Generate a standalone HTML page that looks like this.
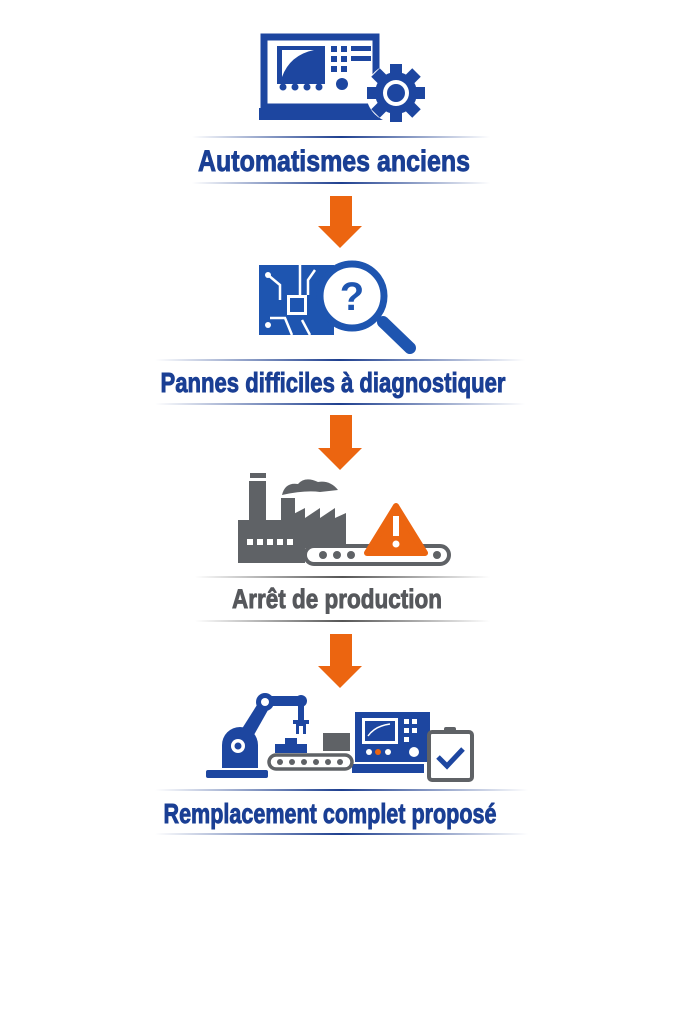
<!DOCTYPE html>
<html><head><meta charset="utf-8"><style>
html,body{margin:0;padding:0;background:#fff;}
body{width:683px;height:1024px;position:relative;overflow:hidden;}
svg{position:absolute;left:0;top:0;}
text{font-family:"Liberation Sans Narrow","Liberation Sans",sans-serif;font-weight:bold;stroke-width:0.9;}
</style></head><body>
<svg width="683" height="1024" viewBox="0 0 683 1024">
<defs>
<linearGradient id="ln" x1="0" x2="1"><stop offset="0" stop-color="#1e3f8f" stop-opacity="0"/><stop offset="0.5" stop-color="#1e3f8f"/><stop offset="1" stop-color="#1e3f8f" stop-opacity="0"/></linearGradient>
<linearGradient id="lg" x1="0" x2="1"><stop offset="0" stop-color="#555" stop-opacity="0"/><stop offset="0.5" stop-color="#555"/><stop offset="1" stop-color="#555" stop-opacity="0"/></linearGradient>
</defs>
<!-- Icon 1 -->
<rect x="264" y="37" width="112" height="70" fill="none" stroke="#1d46a0" stroke-width="7"/>
<rect x="277" y="46" width="48" height="38" fill="#1d46a0"/>
<path d="M282 77 Q290 55 314 50 L282 50 Z" fill="#fff"/>
<g fill="#1d46a0"><rect x="331" y="46" width="6" height="6"/><rect x="341" y="46" width="6" height="6"/><rect x="351" y="46" width="20" height="5"/><rect x="331" y="56" width="6" height="6"/><rect x="341" y="56" width="6" height="6"/><rect x="351" y="56" width="20" height="5"/><rect x="331" y="66" width="6" height="6"/><rect x="341" y="66" width="6" height="6"/>
<circle cx="283" cy="87" r="3.5"/><circle cx="295" cy="87" r="3.5"/><circle cx="307" cy="87" r="3.5"/><circle cx="319" cy="87" r="3.5"/><circle cx="342" cy="84" r="6"/>
<rect x="259" y="108" width="140" height="12"/></g>
<g transform="translate(396,93)">
<circle r="30" fill="#fff"/>
<g fill="#1d46a0"><circle r="21"/>
<rect x="-6" y="-29" width="12" height="58"/><rect x="-29" y="-6" width="58" height="12"/>
<rect x="-6" y="-29" width="12" height="58" transform="rotate(45)"/><rect x="-6" y="-29" width="12" height="58" transform="rotate(-45)"/></g>
<circle r="13" fill="#fff"/><circle r="9" fill="#1d46a0"/></g>
<rect x="192" y="136" width="298" height="2" fill="url(#ln)"/>
<text x="334" y="171" text-anchor="middle" font-size="30" fill="#1a3f94" stroke="#1a3f94" textLength="272" lengthAdjust="spacingAndGlyphs">Automatismes anciens</text>
<rect x="192" y="182" width="298" height="2" fill="url(#ln)"/>
<!-- arrows -->
<g fill="#ec6510">
<path d="M330 196 H352 V226 H362 L340 248 L318 226 H330 Z"/>
<path d="M330 415 H352 V448 H362 L340 470 L318 448 H330 Z"/>
<path d="M330 634 H352 V666 H362 L340 688 L318 666 H330 Z"/>
</g>
<!-- Icon 2 -->
<rect x="259" y="265" width="75" height="70" fill="#1e55b0"/>
<g stroke="#fff" stroke-width="2.5" fill="none"><path d="M268 275 L280 285 V300"/><path d="M300 265 V295"/><path d="M270 318 H285 L292 335"/><path d="M310 335 L302 320"/><path d="M315 270 L308 280 V295"/></g>
<rect x="287" y="295" width="20" height="20" fill="#fff"/><rect x="290" y="298" width="14" height="14" fill="#1e55b0"/>
<circle cx="268" cy="325" r="3" fill="#fff"/><circle cx="268" cy="275" r="3" fill="#fff"/>
<path d="M383 322 L410 348" stroke="#1e55b0" stroke-width="12" stroke-linecap="round"/>
<circle cx="352" cy="296" r="32" fill="#fff" stroke="#1e55b0" stroke-width="7"/>
<text x="352" y="310" text-anchor="middle" font-size="40" fill="#1e55b0" font-family="Liberation Sans">?</text>
<rect x="155" y="359" width="370" height="2" fill="url(#ln)"/>
<text x="333" y="392" text-anchor="middle" font-size="28" fill="#1a3f94" stroke="#1a3f94" textLength="345" lengthAdjust="spacingAndGlyphs">Pannes difficiles à diagnostiquer</text>
<rect x="155" y="403" width="370" height="2" fill="url(#ln)"/>
<!-- Icon 3 -->
<g fill="#5f6266">
<rect x="250" y="473" width="16" height="5"/><rect x="249" y="481" width="17" height="40"/>
<rect x="281" y="498" width="14" height="25"/>
<path d="M282 495 Q285 482 298 484 Q305 476 318 482 Q330 480 338 490 L320 492 Q305 490 282 495Z"/>
<path d="M238 520 L282 520 L305 508 V518 L320 508 V518 L335 508 V518 L346 513 V548 L305 548 V563 H238 Z"/>
<path d="M314 546 H440 A9 9 0 0 1 440 564 H314 A9 9 0 0 1 314 546 Z" fill="none" stroke="#5f6266" stroke-width="4"/>
<circle cx="323" cy="555" r="4"/><circle cx="337" cy="555" r="4"/><circle cx="351" cy="555" r="4"/><circle cx="437" cy="555" r="4"/>
</g>
<g fill="#fff"><rect x="247" y="539" width="6" height="6"/><rect x="257" y="539" width="6" height="6"/><rect x="267" y="539" width="6" height="6"/><rect x="277" y="539" width="6" height="6"/><rect x="287" y="539" width="6" height="6"/></g>
<path d="M396 506 L425 553 H367 Z" fill="#ec6510" stroke="#ec6510" stroke-width="6" stroke-linejoin="round"/>
<rect x="393" y="516" width="6" height="20" fill="#fff"/><circle cx="396" cy="544" r="3.5" fill="#fff"/>
<rect x="195" y="576" width="295" height="2" fill="url(#lg)"/>
<text x="337" y="608" text-anchor="middle" font-size="27" fill="#56585c" stroke="#56585c" textLength="210" lengthAdjust="spacingAndGlyphs">Arrêt de production</text>
<rect x="195" y="620" width="295" height="2" fill="url(#lg)"/>
<!-- Icon 4 -->
<g fill="#1d46a0">
<rect x="206" y="770" width="62" height="8" rx="2"/>
<path d="M222 768 V745 A18 18 0 0 1 258 745 V768 Z"/>
<path d="M238 735 L262 697 L272 703 L250 742 Z"/>
<rect x="262" y="696" width="40" height="10"/>
<circle cx="265" cy="702" r="9"/><circle cx="301" cy="701" r="6"/>
<rect x="298" y="705" width="6" height="16"/>
<path d="M293 720 h16 v4 h-3 v10 h-3 v-8 h-4 v8 h-3 v-10 h-3z"/>
<rect x="285" y="738" width="12" height="6"/><rect x="275" y="744" width="32" height="9"/>
<rect x="355" y="712" width="75" height="50"/>
<rect x="352" y="764" width="72" height="9"/>
</g>
<circle cx="265" cy="702" r="4" fill="#fff"/><circle cx="238" cy="746" r="7" fill="#fff"/><circle cx="238" cy="746" r="3.5" fill="#1d46a0"/>
<rect x="323" y="733" width="27" height="18" fill="#5f6266"/>
<path d="M276 755 H345 A7 7 0 0 1 345 769 H276 A7 7 0 0 1 276 755 Z" fill="none" stroke="#5f6266" stroke-width="3.5"/>
<g fill="#5f6266"><circle cx="280" cy="762" r="3"/><circle cx="292" cy="762" r="3"/><circle cx="304" cy="762" r="3"/><circle cx="316" cy="762" r="3"/><circle cx="328" cy="762" r="3"/><circle cx="340" cy="762" r="3"/></g>
<rect x="362" y="718" width="36" height="26" fill="#fff"/><rect x="365" y="721" width="30" height="20" fill="#1d46a0"/>
<path d="M368 736 Q375 726 390 724" stroke="#fff" stroke-width="1.5" fill="none"/>
<g fill="#fff"><rect x="404" y="719" width="5" height="5"/><rect x="412" y="719" width="5" height="5"/><rect x="404" y="728" width="5" height="5"/><rect x="412" y="728" width="5" height="5"/><rect x="404" y="737" width="5" height="5"/>
<circle cx="369" cy="752" r="3"/><circle cx="388" cy="752" r="3"/><circle cx="414" cy="752" r="5"/></g>
<circle cx="378" cy="752" r="3" fill="#ec6510"/>
<rect x="429" y="732" width="43" height="48" rx="3" fill="#fff" stroke="#5f6266" stroke-width="4"/>
<rect x="444" y="727" width="12" height="7" rx="2" fill="#5f6266"/>
<path d="M438 757 L447 766 L463 749" stroke="#1d46a0" stroke-width="5" fill="none"/>
<rect x="155" y="789" width="373" height="2" fill="url(#ln)"/>
<text x="330" y="823" text-anchor="middle" font-size="28" fill="#1a3f94" stroke="#1a3f94" textLength="333" lengthAdjust="spacingAndGlyphs">Remplacement complet proposé</text>
<rect x="155" y="833" width="373" height="2" fill="url(#ln)"/>
</svg>
</body></html>
